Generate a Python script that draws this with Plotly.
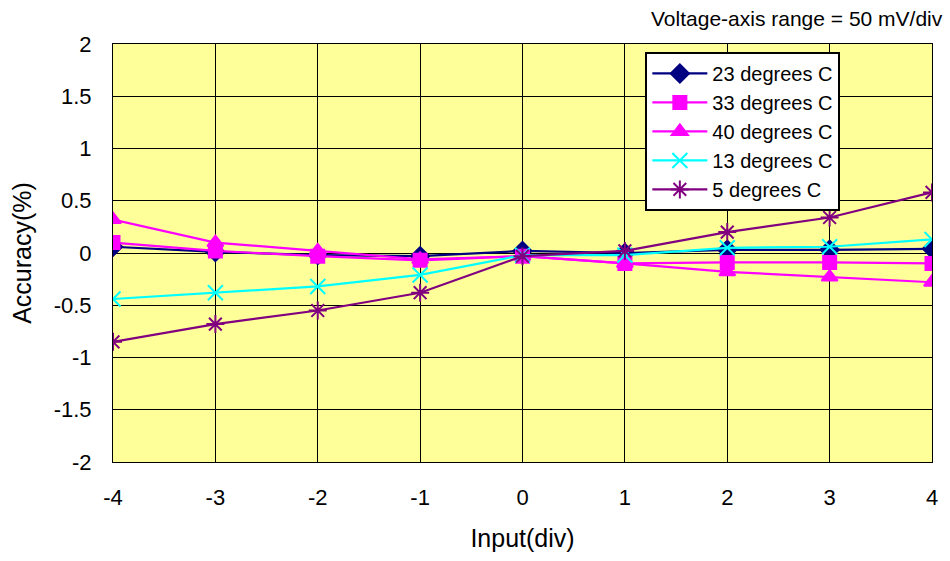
import plotly.graph_objects as go

# Input position in divisions
inputs = [-4, -3, -2, -1, 0, 1, 2, 3, 4]
x_tick_text = ["-4", "-3", "-2", "-1", "0", "1", "2", "3", "4"]

# Accuracy (%) per temperature
acc_23 = [0.06, 0.01, -0.02, -0.03, 0.02, 0.00, 0.03, 0.03, 0.04]
acc_33 = [0.10, 0.02, -0.03, -0.07, -0.03, -0.10, -0.09, -0.09, -0.10]
acc_40 = [0.32, 0.10, 0.02, -0.06, -0.03, -0.10, -0.18, -0.23, -0.28]
acc_13 = [-0.44, -0.38, -0.32, -0.21, -0.02, -0.02, 0.05, 0.06, 0.13]
acc_5 = [-0.85, -0.68, -0.55, -0.38, -0.03, 0.02, 0.20, 0.34, 0.58]

series_names = ["23 degrees C", "33 degrees C", "40 degrees C", "13 degrees C", "5 degrees C"]
y_ticks = [-2, -1.5, -1, -0.5, 0, 0.5, 1, 1.5, 2]
y_tick_text = ["-2", "-1.5", "-1", "-0.5", "0", "0.5", "1", "1.5", "2"]

styles = [
    dict(color="#000080", symbol="diamond", size=14),
    dict(color="#FF00FF", symbol="square", size=13),
    dict(color="#FF00FF", symbol="triangle-up", size=14),
    dict(color="#00FFFF", symbol="x-thin-open", size=15),
    dict(color="#800080", symbol="asterisk-open", size=15),
]

fig = go.Figure()
for name, vals, st in zip(series_names, [acc_23, acc_33, acc_40, acc_13, acc_5], styles):
    fig.add_trace(go.Scatter(
        x=inputs, y=vals, name=name, legendgroup=name, mode="lines+markers",
        line=dict(color=st["color"], width=2.2),
        marker=dict(symbol=st["symbol"], size=st["size"], color=st["color"],
                    line=dict(color=st["color"], width=2)),
    ))

font_family = "Liberation Sans, Arial, sans-serif"

fig.update_layout(
    width=950, height=561,
    margin=dict(l=113, r=18, t=44, b=99),
    paper_bgcolor="white",
    plot_bgcolor="#FFFF99",
    font=dict(family=font_family, size=22, color="black"),
    showlegend=True,
    legend=dict(
        x=0.65, y=0.981, xanchor="left", yanchor="top",
        bgcolor="white", bordercolor="black", borderwidth=2,
        font=dict(size=20), tracegroupgap=0, itemwidth=55,
    ),
    xaxis=dict(
        range=[-4, 4], tickvals=inputs, ticktext=x_tick_text,
        showgrid=True, gridcolor="black", gridwidth=1,
        zeroline=False, showline=True, linecolor="black", linewidth=1, mirror=True,
        ticks="outside", ticklen=16, tickcolor="rgba(0,0,0,0)",
        title=dict(text="Input(div)", standoff=20, font=dict(size=25)),
    ),
    yaxis=dict(
        range=[-2, 2], tickvals=y_ticks, ticktext=y_tick_text,
        showgrid=True, gridcolor="black", gridwidth=1,
        zeroline=False, showline=True, linecolor="black", linewidth=1, mirror=True,
        ticks="outside", ticklen=16, tickcolor="rgba(0,0,0,0)",
        title=dict(text="Accuracy(%)", standoff=14, font=dict(size=25)),
    ),
    annotations=[dict(
        text="Voltage-axis range = 50 mV/div", xref="paper", yref="paper",
        x=1.0159, y=1.0622, xanchor="right", yanchor="middle",
        showarrow=False, font=dict(size=21),
    )],
)

fig.write_html("out.html")
